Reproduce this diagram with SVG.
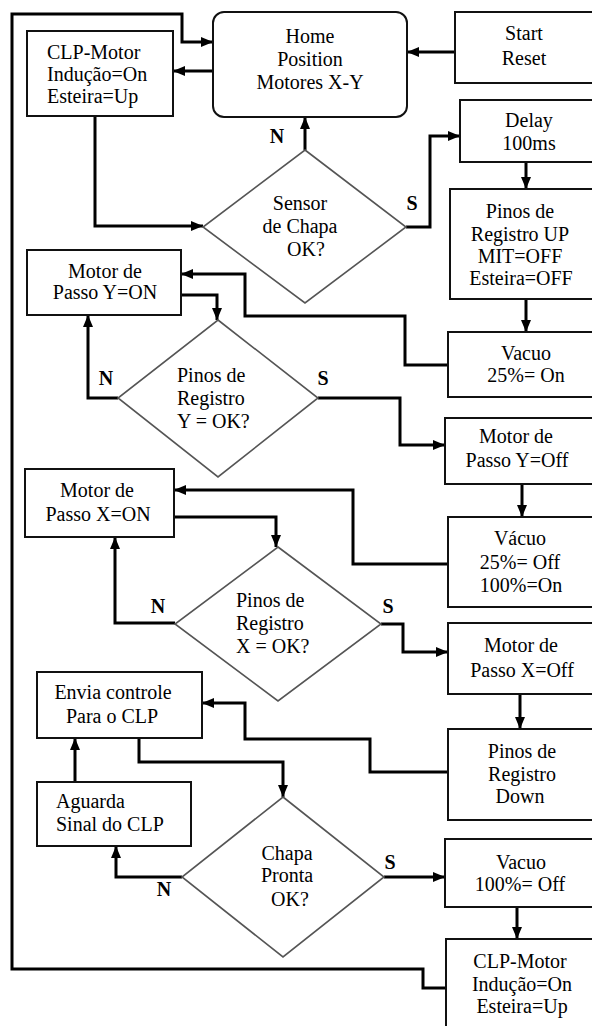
<svg xmlns="http://www.w3.org/2000/svg" width="592" height="1026" viewBox="0 0 592 1026" font-family="'Liberation Serif', Tinos, 'Times New Roman', 'DejaVu Serif', serif">
<defs>
<marker id="ah" markerUnits="userSpaceOnUse" markerWidth="12" markerHeight="12" viewBox="0 0 12 12" refX="12" refY="6" orient="auto">
<path d="M0,1 L12,6 L0,11 z" fill="#000"/>
</marker>
<style>
.box{fill:#fff;stroke:#111;stroke-width:2}
.dia{fill:#fff;stroke:#555;stroke-width:1.6}
.c{fill:none;stroke:#000;stroke-width:3;stroke-linejoin:miter}
.a{marker-end:url(#ah)}
text{font-family:'Liberation Serif', Tinos, 'Times New Roman', 'DejaVu Serif', serif;font-size:20px;fill:#000}
.m{text-anchor:middle}
.lbl{font-weight:bold;text-anchor:middle}
</style>
</defs>
<rect width="592" height="1026" fill="#fff"/>
<g id="connectors">
<path class="c a" d="M446,988 H423 V969 H12 V14 H182 V42 H213"/>
<path class="c a" d="M455,52 H407"/>
<path class="c a" d="M213,71 H173"/>
<path class="c a" d="M95,116 V226 H203"/>
<path class="c a" d="M305,150 V117"/>
<path class="c a" d="M406,227 H430 V136 H460"/>
<path class="c a" d="M526,162 V189"/>
<path class="c a" d="M526,299 V332"/>
<path class="c a" d="M448,365 H405 V316 H245 V274 H181"/>
<path class="c a" d="M181,295 H217 V320"/>
<path class="c a" d="M118,398 H88 V315"/>
<path class="c a" d="M318,398 H400 V445 H445"/>
<path class="c a" d="M522,484 V517"/>
<path class="c a" d="M448,564 H353 V490 H174"/>
<path class="c a" d="M174,517 H276 V547"/>
<path class="c a" d="M175,623 H115 V537"/>
<path class="c a" d="M381,624 H403 V652 H448"/>
<path class="c a" d="M520,694 V729"/>
<path class="c a" d="M448,772 H370 V739 H245 V703 H202"/>
<path class="c a" d="M139,738 V762 H283 V797"/>
<path class="c a" d="M75,782 V738"/>
<path class="c a" d="M182,877 H116 V846"/>
<path class="c a" d="M384,877 H445"/>
<path class="c a" d="M517,907 V939"/>
</g>
<g id="labels">
<text class="lbl" x="277" y="143">N</text>
<text class="lbl" x="412" y="210">S</text>
<text class="lbl" x="106" y="385">N</text>
<text class="lbl" x="323" y="385">S</text>
<text class="lbl" x="158" y="613">N</text>
<text class="lbl" x="388" y="613">S</text>
<text class="lbl" x="164" y="896">N</text>
<text class="lbl" x="390" y="869">S</text>
</g>
<g id="clp-top">
<rect class="box" x="27" y="31" width="146" height="85"/>
<text x="47" y="59">CLP-Motor</text>
<text x="47" y="81">Indução=On</text>
<text x="47" y="103">Esteira=Up</text>
</g>
<g id="home">
<rect class="box" x="213" y="12" width="194" height="105" rx="11"/>
<text class="m" x="310" y="43">Home</text>
<text class="m" x="310" y="66">Position</text>
<text class="m" x="310" y="89">Motores X-Y</text>
</g>
<g id="start">
<rect class="box" x="455" y="12" width="145" height="71"/>
<text class="m" x="524" y="40">Start</text>
<text class="m" x="524" y="65">Reset</text>
</g>
<g id="delay">
<rect class="box" x="460" y="100" width="140" height="62"/>
<text class="m" x="529" y="127">Delay</text>
<text class="m" x="529" y="150">100ms</text>
</g>
<g id="sensor">
<polygon class="dia" points="305,150 406,227 305,303 203,227"/>
<text class="m" x="300" y="210">Sensor</text>
<text class="m" x="300" y="233">de Chapa</text>
<text class="m" x="306" y="256">OK?</text>
</g>
<g id="pinos-up">
<rect class="box" x="450" y="189" width="150" height="110"/>
<text class="m" x="520" y="218">Pinos de</text>
<text class="m" x="520" y="241">Registro UP</text>
<text class="m" x="520" y="263">MIT=OFF</text>
<text class="m" x="521" y="285">Esteira=OFF</text>
</g>
<g id="vacuo-25-on">
<rect class="box" x="448" y="332" width="152" height="65"/>
<text class="m" x="526" y="360">Vacuo</text>
<text class="m" x="526" y="382">25%= On</text>
</g>
<g id="motor-y-on">
<rect class="box" x="27" y="250" width="154" height="65"/>
<text class="m" x="105" y="278">Motor de</text>
<text class="m" x="105" y="299">Passo Y=ON</text>
</g>
<g id="registro-y">
<polygon class="dia" points="218,320 318,398 218,477 118,398"/>
<text x="177" y="382">Pinos de</text>
<text x="177" y="405">Registro</text>
<text x="177" y="428">Y = OK?</text>
</g>
<g id="motor-y-off">
<rect class="box" x="445" y="418" width="155" height="66"/>
<text class="m" x="516" y="443">Motor de</text>
<text class="m" x="517" y="467">Passo Y=Off</text>
</g>
<g id="vacuo-25-off">
<rect class="box" x="448" y="517" width="152" height="90"/>
<text class="m" x="520" y="545">Vácuo</text>
<text class="m" x="520" y="569">25%= Off</text>
<text class="m" x="521" y="592">100%=On</text>
</g>
<g id="motor-x-on">
<rect class="box" x="25" y="469" width="149" height="68"/>
<text class="m" x="97" y="497">Motor de</text>
<text class="m" x="98" y="521">Passo X=ON</text>
</g>
<g id="registro-x">
<polygon class="dia" points="278,547 381,624 278,701 175,624"/>
<text x="236" y="607">Pinos de</text>
<text x="236" y="630">Registro</text>
<text x="236" y="653">X = OK?</text>
</g>
<g id="motor-x-off">
<rect class="box" x="448" y="623" width="152" height="71"/>
<text class="m" x="521" y="652">Motor de</text>
<text class="m" x="522" y="677">Passo X=Off</text>
</g>
<g id="pinos-down">
<rect class="box" x="448" y="729" width="152" height="91"/>
<text class="m" x="522" y="758">Pinos de</text>
<text class="m" x="522" y="781">Registro</text>
<text class="m" x="520" y="803">Down</text>
</g>
<g id="envia">
<rect class="box" x="37" y="672" width="165" height="66"/>
<text class="m" x="113" y="699">Envia controle</text>
<text class="m" x="112" y="723">Para o CLP</text>
</g>
<g id="aguarda">
<rect class="box" x="37" y="782" width="154" height="64"/>
<text x="56" y="808">Aguarda</text>
<text x="56" y="831">Sinal do CLP</text>
</g>
<g id="chapa">
<polygon class="dia" points="283,797 384,877 283,957 182,877"/>
<text class="m" x="287" y="860">Chapa</text>
<text class="m" x="287" y="882">Pronta</text>
<text class="m" x="290" y="906">OK?</text>
</g>
<g id="vacuo-100-off">
<rect class="box" x="445" y="839" width="155" height="68"/>
<text class="m" x="521" y="869">Vacuo</text>
<text class="m" x="520" y="891">100%= Off</text>
</g>
<g id="clp-bottom">
<rect class="box" x="446" y="939" width="154" height="95"/>
<text class="m" x="520" y="968">CLP-Motor</text>
<text class="m" x="522" y="991">Indução=On</text>
<text class="m" x="522" y="1013">Esteira=Up</text>
</g>
</svg>
